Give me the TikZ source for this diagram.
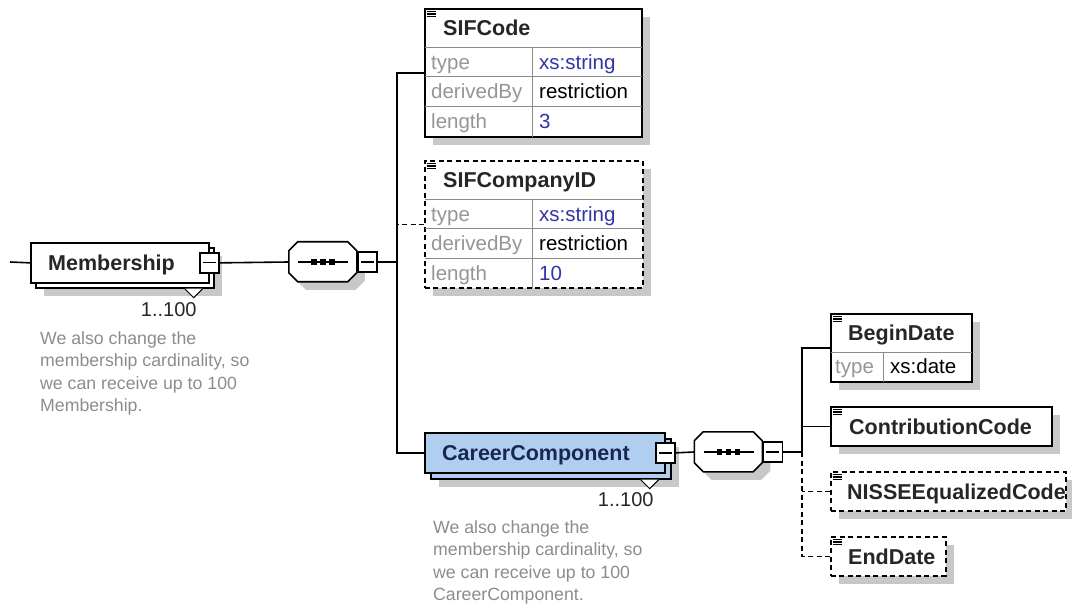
\documentclass[tikz,border=0pt]{standalone}
\usepackage{fontspec}
\setmainfont{Liberation Sans}
\usepackage{tikz}
\usetikzlibrary{calc}
\usetikzlibrary{shadows}

\definecolor{shadowGray}{RGB}{200,200,200}
\definecolor{keyGray}{RGB}{150,150,150}
\definecolor{lineGray}{RGB}{140,140,140}
\definecolor{valBlue}{RGB}{51,51,170}
\definecolor{noteGray}{RGB}{140,140,140}
\definecolor{careerBlue}{RGB}{176,206,240}
\definecolor{careerText}{RGB}{25,40,80}

\tikzset{
	elemBox/.style = {draw, line width = 1.7pt, fill = white, rectangle, inner sep = 0pt, anchor = north west},
	optBox/.style = {elemBox, dash pattern = on 5pt off 3.5pt},
	shadowed/.style = {drop shadow = {shadow xshift = 8pt, shadow yshift = -8pt, fill = shadowGray, opacity = 1}},
	elemName/.style = {anchor = west, inner sep = 0pt, text height = 15.5pt, text depth = 0pt, font = \fontsize{21.5}{25}\selectfont\bfseries, text = black!85},
	keyText/.style = {anchor = west, inner sep = 0pt, text height = 14.5pt, text depth = 0pt, font = \fontsize{20.5}{24}\selectfont, text = keyGray},
	valText/.style = {keyText, text = black},
	cardText/.style = {anchor = east, inner sep = 0pt, text height = 14.5pt, text depth = 0pt, font = \fontsize{20}{24}\selectfont, text = black!85},
	noteText/.style = {anchor = north west, align = left, inner sep = 0pt, font = \fontsize{17.7}{22.5}\selectfont, text = noteGray},
	rowLine/.style = {line width = 0.8pt, draw = lineGray},
	link/.style = {line width = 1.6pt},
	optLink/.style = {link, dash pattern = on 5pt off 3.5pt},
	expander/.style = {draw, line width = 1.5pt, fill = white, rectangle, inner sep = 0pt, minimum width = 19pt, minimum height = 20pt, anchor = center,
		path picture = {\draw [line width = 1.3pt] ([xshift = 3pt]path picture bounding box.west) -- ([xshift = -3pt]path picture bounding box.east);}},
	seqBox/.style = {rectangle, inner sep = 0pt, minimum width = 68pt, minimum height = 40pt},
	occMark/.style = {line width = 1pt, fill = white}
}

\begin{document}
\begin{tikzpicture}[x = 1pt, y = -1pt]
	\useasboundingbox (0,0) rectangle (1072,604);

	% table dimensions
	\def \headH {39};
	\def \rowH {29.7};
	\def \cut {9};

	% Membership
	\coordinate (leadIn) at (10,262);
	\node [elemBox, shadowed, minimum width = 178pt, minimum height = 40pt] (membershipBack) at (35,247) {};
	\node [elemBox, minimum width = 178pt, minimum height = 40pt] (membership) at (30,242) {};
	\node [elemName] (membershipName) at ($(membership.west) + (18,0)$) {Membership};
	\node [expander] (membershipExp) at (membership.east) {};
	\draw [occMark] ($(membershipBack.south east) + (-30,0)$) -- ++(9,9) -- ++(9,-9);
	\node [cardText] (membershipCard) at ($(membership.south east) + (-13,26)$) {1..100};
	\node [noteText] (membershipNote) at (40,331) {We also change the\\membership cardinality, so\\we can receive up to 100\\Membership.};
	\draw [link] (leadIn) -- (membership.west);

	% sequences
	\node [seqBox] (seqOne) at (323,262) {};
	\node [seqBox] (seqTwo) at (728.5,452) {};
	\foreach \s in {seqOne, seqTwo} {
		\fill [shadowGray] ($(\s.north west) + ({\cut + 8},8)$) -- ++(50,0) -- ++(\cut,\cut) -- ++(0,22) -- ++(-\cut,\cut) -- ++(-50,0) -- ++(-\cut,-\cut) -- ++(0,-22) -- cycle;
		\filldraw [link, fill = white] ($(\s.north west) + (\cut,0)$) -- ++(50,0) -- ++(\cut,\cut) -- ++(0,22) -- ++(-\cut,\cut) -- ++(-50,0) -- ++(-\cut,-\cut) -- ++(0,-22) -- cycle;
		\draw [line width = 1.3pt] ($(\s.center) + (-25,0)$) -- ($(\s.center) + (25,0)$);
		\foreach \dx in {-9,0,9}
			\fill ($(\s.center) + (\dx - 2.8,-2.8)$) rectangle ++(5.6,5.6);
	}
	\node [expander, anchor = west] (seqOneExp) at (seqOne.east) {};
	\node [expander, anchor = west] (seqTwoExp) at (seqTwo.east) {};

	% first sequence
	\draw [link] (membershipExp.east) -- (seqOne.west);
	\coordinate (combOne) at ($(seqOneExp.east) + (19,0)$);
	\draw [link] (seqOneExp.east) -- (combOne);

	% SIFCode
	\node [elemBox, shadowed, minimum width = 217pt, minimum height = 128pt] (sifCode) at (424,8) {};
	\node [elemName] (sifCodeName) at ($(sifCode.north west) + (19,20)$) {SIFCode};
	\foreach \i in {0,1,2}
		\draw [rowLine] ($(sifCode.north west) + (0.9,{\headH + \i * \rowH})$) -- ($(sifCode.north east) + (-0.9,{\headH + \i * \rowH})$);
	\draw [rowLine] ($(sifCode.north west) + (108,\headH)$) -- ($(sifCode.south west) + (108,-0.9)$);
	\foreach \key/\val/\col [count = \i] in {type/xs:string/valBlue, derivedBy/restriction/black, length/3/valBlue} {
		\node [keyText] (sifCodeKey\i) at ($(sifCode.north west) + (7,{\headH + (\i - 0.5) * \rowH})$) {\key};
		\node [valText, text = \col] (sifCodeVal\i) at ($(sifCode.north west) + (115,{\headH + (\i - 0.5) * \rowH})$) {\val};
	}

	% SIFCompanyID
	\node [optBox, shadowed, minimum width = 218pt, minimum height = 127pt] (sifCompanyID) at (424,160) {};
	\node [elemName] (sifCompanyIDName) at ($(sifCompanyID.north west) + (19,20)$) {SIFCompanyID};
	\foreach \i in {0,1,2}
		\draw [rowLine] ($(sifCompanyID.north west) + (0.9,{\headH + \i * \rowH})$) -- ($(sifCompanyID.north east) + (-0.9,{\headH + \i * \rowH})$);
	\draw [rowLine] ($(sifCompanyID.north west) + (108,\headH)$) -- ($(sifCompanyID.south west) + (108,-0.9)$);
	\foreach \key/\val/\col [count = \i] in {type/xs:string/valBlue, derivedBy/restriction/black, length/10/valBlue} {
		\node [keyText] (sifCompanyIDKey\i) at ($(sifCompanyID.north west) + (7,{\headH + (\i - 0.5) * \rowH})$) {\key};
		\node [valText, text = \col] (sifCompanyIDVal\i) at ($(sifCompanyID.north west) + (115,{\headH + (\i - 0.5) * \rowH})$) {\val};
	}

	% CareerComponent
	\node [elemBox, shadowed, fill = careerBlue, minimum width = 240pt, minimum height = 40pt] (careerBack) at (430,438) {};
	\node [elemBox, fill = careerBlue, minimum width = 240pt, minimum height = 40pt] (careerComponent) at (424,432) {};
	\node [elemName, text = careerText] (careerName) at ($(careerComponent.west) + (18,0)$) {CareerComponent};
	\node [expander] (careerExp) at (careerComponent.east) {};
	\draw [occMark] ($(careerBack.south east) + (-31,0)$) -- ++(9,9) -- ++(9,-9);
	\node [cardText] (careerCard) at ($(careerComponent.south east) + (-12,26)$) {1..100};
	\node [noteText] (careerNote) at (433,520) {We also change the\\membership cardinality, so\\we can receive up to 100\\CareerComponent.};

	% links of the first sequence
	\draw [link] (sifCode.west) -| (combOne) |- (careerComponent.west);
	\draw [optLink] (sifCompanyID.west) -- (sifCompanyID.west -| combOne);

	% second sequence
	\draw [link] (careerExp.east) -- (seqTwo.west);
	\coordinate (combTwo) at ($(seqTwoExp.east) + (19,0)$);
	\draw [link] (seqTwoExp.east) -- (combTwo);

	% BeginDate
	\node [elemBox, shadowed, minimum width = 141pt, minimum height = 68pt] (beginDate) at (830,313) {};
	\node [elemName] (beginDateName) at ($(beginDate.north west) + (18,20)$) {BeginDate};
	\draw [rowLine] ($(beginDate.north west) + (0.9,\headH)$) -- ($(beginDate.north east) + (-0.9,\headH)$);
	\draw [rowLine] ($(beginDate.north west) + (53,\headH)$) -- ($(beginDate.south west) + (53,-0.9)$);
	\node [keyText] (beginDateKey) at ($(beginDate.north west) + (5,{\headH + 14.5})$) {type};
	\node [valText] (beginDateVal) at ($(beginDate.north west) + (60,{\headH + 14.5})$) {xs:date};

	% ContributionCode
	\node [elemBox, shadowed, minimum width = 221pt, minimum height = 39pt] (contributionCode) at (830,406) {};
	\node [elemName] (contributionCodeName) at ($(contributionCode.west) + (19,0)$) {ContributionCode};

	% NISSEEqualizedCode
	\node [optBox, shadowed, minimum width = 235pt, minimum height = 39pt] (nisseCode) at (830,471) {};
	\node [elemName] (nisseCodeName) at ($(nisseCode.west) + (17,0)$) {NISSEEqualizedCode};

	% EndDate
	\node [optBox, shadowed, minimum width = 115pt, minimum height = 39pt] (endDate) at (830,536) {};
	\node [elemName] (endDateName) at ($(endDate.west) + (18,0)$) {EndDate};

	% element icons
	\foreach \b in {sifCode, sifCompanyID, beginDate, contributionCode, nisseCode, endDate}
		\foreach \dy in {3.5,6,8.5}
			\draw [line width = 1.1pt] ($(\b.north west) + (2.5,\dy)$) -- ++(9,0);

	% links of the second sequence
	\draw [link] (beginDate.west) -| (combTwo);
	\draw [link] (contributionCode.west) -- (contributionCode.west -| combTwo);
	\draw [optLink] (combTwo) |- (endDate.west);
	\draw [optLink] (nisseCode.west) -- (nisseCode.west -| combTwo);

\end{tikzpicture}
\end{document}
